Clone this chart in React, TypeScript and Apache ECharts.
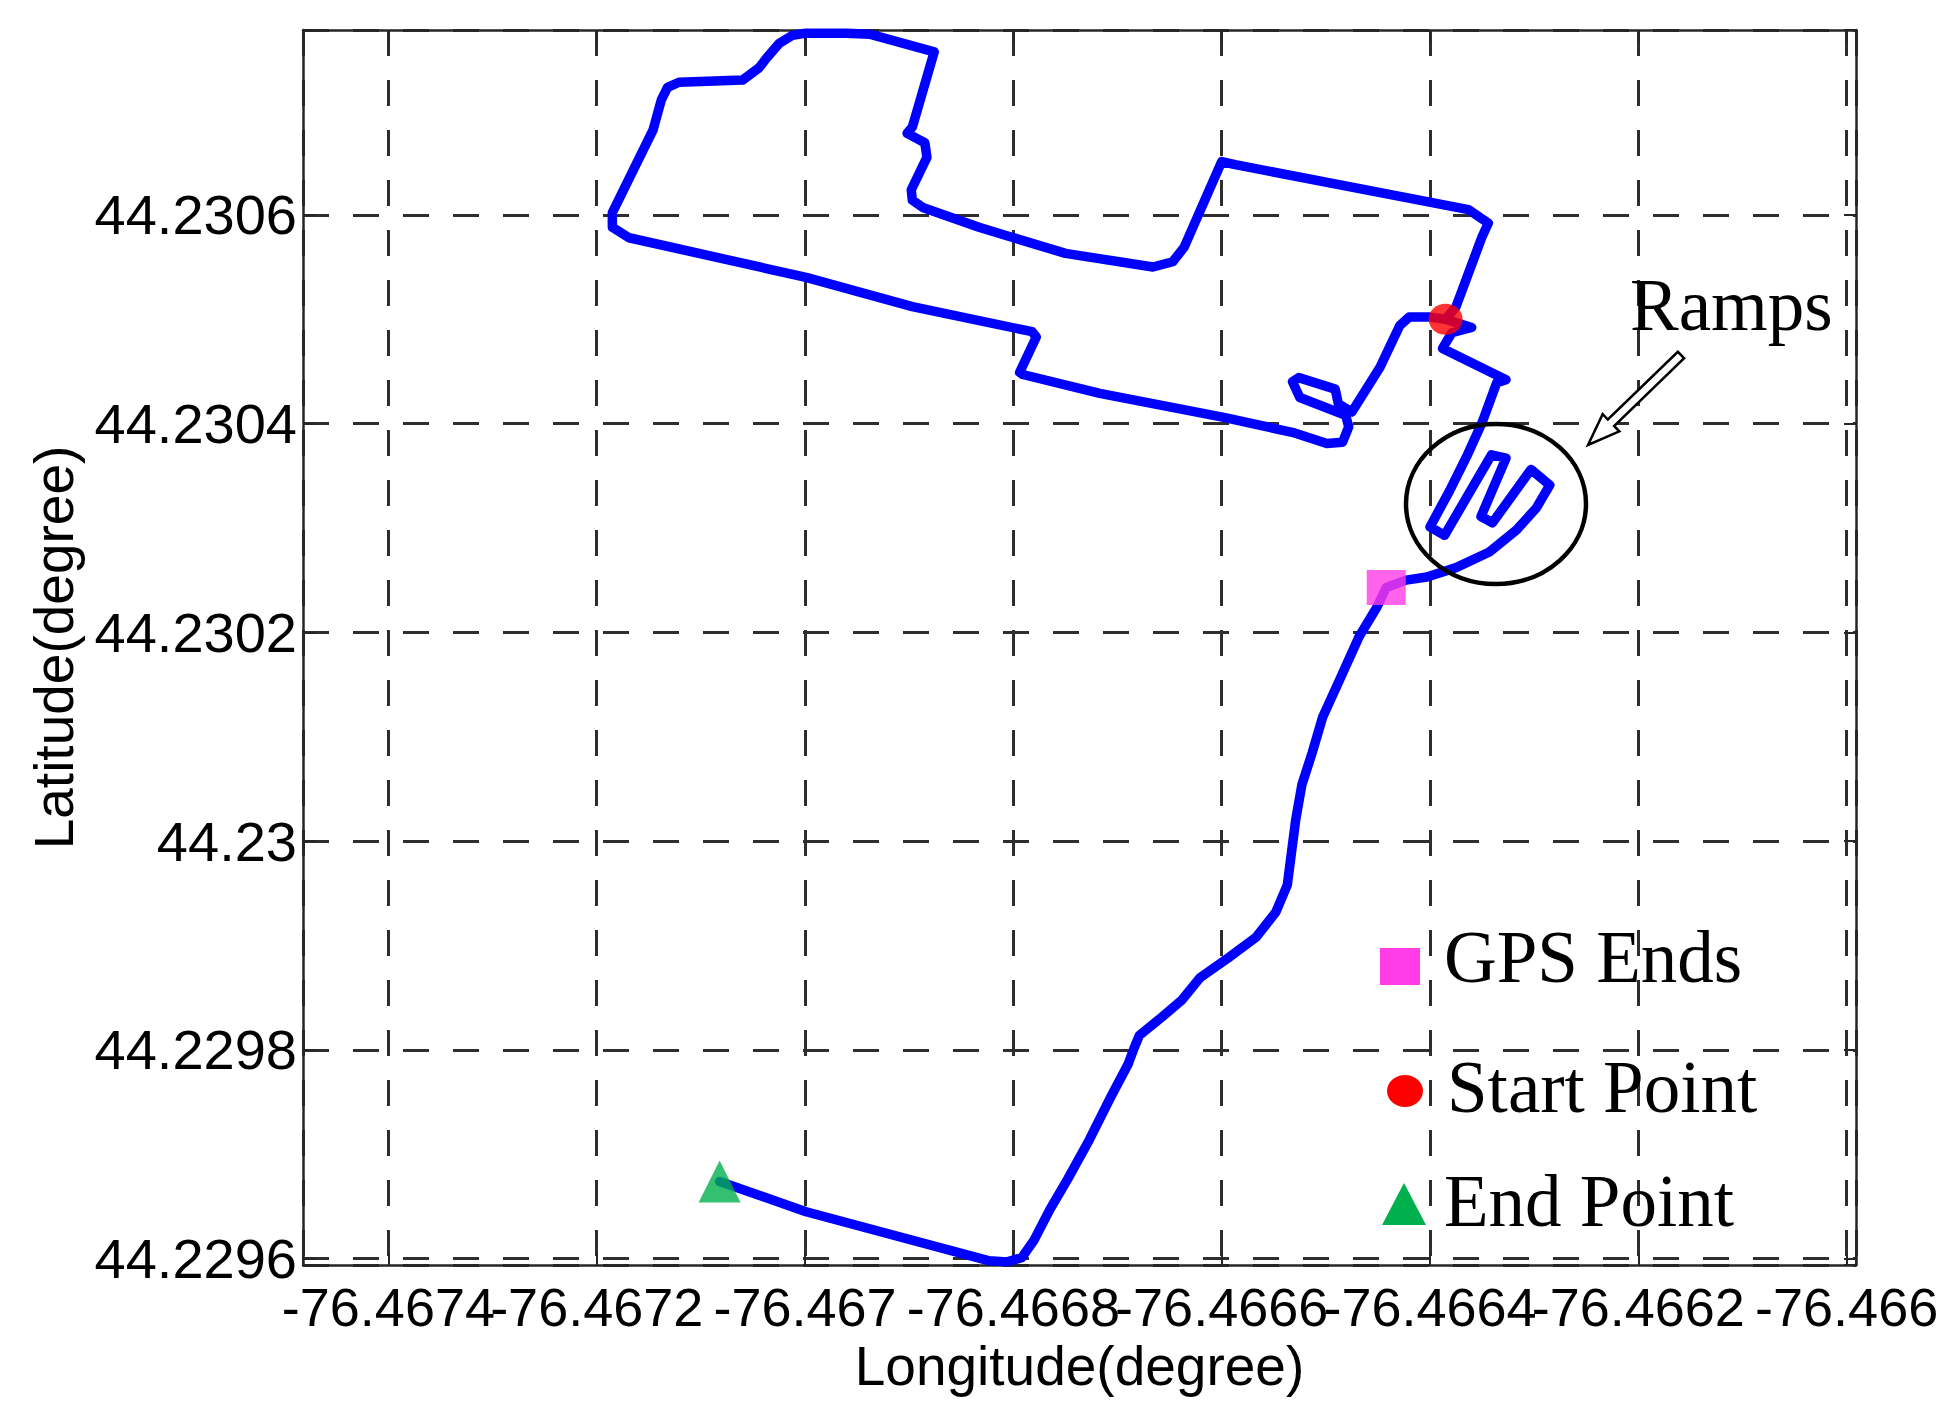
import React, { useEffect, useRef } from "react";
import * as echarts from "echarts";

// Trajectory (travel order)
const longitude: number[] = [
  -76.466385, -76.466375, -76.46635, -76.466344, -76.466363, -76.466587, -76.4666, -76.466636,
  -76.466647, -76.466666, -76.46675, -76.466803, -76.466833, -76.466887, -76.466897, -76.466898,
  -76.466883, -76.466885, -76.466902, -76.466897, -76.466876, -76.466938, -76.46696, -76.466999,
  -76.467012, -76.467025, -76.467037, -76.467044, -76.46706, -76.467121, -76.467132, -76.467138,
  -76.467146, -76.467185, -76.467185, -76.467169, -76.466999, -76.466897, -76.466782, -76.466778,
  -76.466794, -76.466791, -76.466717, -76.466598, -76.46653, -76.466499, -76.466484, -76.466478,
  -76.466481, -76.466525, -76.466532, -76.466526, -76.466491, -76.466488, -76.466475, -76.466448,
  -76.466429, -76.46642, -76.4664, -76.466385, -76.46636, -76.466379, -76.466388, -76.466327,
  -76.466336, -76.46635, -76.466365, -76.466381, -76.4664, -76.466386, -76.466341, -76.466327,
  -76.466351, -76.46634, -76.466303, -76.466285, -76.466298, -76.466317, -76.466343, -76.466375,
  -76.466403, -76.466423, -76.466442, -76.466451, -76.466468, -76.466487, -76.466503, -76.466513,
  -76.466523, -76.466529, -76.466533, -76.466537, -76.466548, -76.466567, -76.466594, -76.466621,
  -76.466638, -76.466658, -76.466679, -76.466684, -76.46669, -76.466708, -76.466727, -76.466748,
  -76.466765, -76.46678, -76.466792, -76.466806, -76.466823, -76.466999, -76.467082,
];
const latitude: number[] = [
  44.2305, 44.230512, 44.230579, 44.230592, 44.230605, 44.230648, 44.230651, 44.230569,
  44.230555, 44.23055, 44.230563, 44.230579, 44.230588, 44.230607, 44.230614, 44.230624,
  44.230655, 44.230669, 44.230678, 44.230684, 44.230756, 44.230773, 44.230774, 44.230774,
  44.230772, 44.230764, 44.23075, 44.230741, 44.230729, 44.230727, 44.230722, 44.23071,
  44.230681, 44.230602, 44.230588, 44.230578, 44.23054, 44.230512, 44.230488, 44.230483,
  44.230449, 44.230447, 44.230429, 44.230406, 44.230391, 44.230381, 44.230382, 44.230397,
  44.230408, 44.230425, 44.23044, 44.230444, 44.230433, 44.230419, 44.230411, 44.230454,
  44.230494, 44.230502, 44.230502, 44.2305, 44.230492, 44.230487, 44.230472, 44.230442,
  44.230439, 44.230401, 44.230368, 44.230336, 44.230301, 44.230293, 44.23037, 44.230367,
  44.230311, 44.230305, 44.230356, 44.230341, 44.230319, 44.230298, 44.230277, 44.230262,
  44.230253, 44.23025, 44.230243, 44.230224, 44.230196, 44.230154, 44.230119, 44.230085,
  44.230054, 44.23002, 44.229989, 44.229958, 44.229932, 44.229908, 44.229888, 44.229869,
  44.229848, 44.229831, 44.229814, 44.229802, 44.229786, 44.229752, 44.229714, 44.229676,
  44.229647, 44.229618, 44.229601, 44.229597, 44.229598, 44.229645, 44.229674,
];

// Indices of the marked points along the trajectory
const startIndex = 0;
const gpsEndIndex = 82;
const endIndex = longitude.length - 1;

// Axis extents and tick labels
const lonRange = [-76.467482, -76.465991];
const latRange = [44.229594, 44.230777];
const lonTicks = [-76.4674, -76.4672, -76.467, -76.4668, -76.4666, -76.4664, -76.4662, -76.466];
const latTicks = [44.2296, 44.2298, 44.23, 44.2302, 44.2304, 44.2306];

const legendNames = ["GPS Ends", "Start Point", "End Point"];

const SANS = "'Liberation Sans', Arial, sans-serif";
const SERIF = "'Liberation Serif', 'Times New Roman', serif";
const FRAME = "#262626";
const GRIDC = "#2e2e2e";
const ELLIPSE_PATH = "path://M0,50 A50,50 0 1,0 100,50 A50,50 0 1,0 0,50 Z";

function tickFormatter(ticks: number[]) {
  return (v: number) => {
    for (const t of ticks) {
      if (Math.abs(t - v) < 1e-8) return String(t);
    }
    return "";
  };
}

export default function App() {
  const ref = useRef<HTMLDivElement>(null);

  useEffect(() => {
    if (!ref.current) return;
    const chart = echarts.init(ref.current, undefined, { renderer: "svg" });
    const traj = longitude.map((x, i) => [x, latitude[i]]);

    const axisLine = { show: true, onZero: false, lineStyle: { color: FRAME, width: 2.5 } };
    const axisTick = { show: true, inside: true, length: 12, lineStyle: { color: FRAME, width: 2 } };
    const splitLine = { show: true, lineStyle: { color: GRIDC, width: 3, type: [26, 24] } };

    // arrow geometry (annotation)
    const tail = [1681, 355];
    const tip = [1588, 445];
    const dx = tip[0] - tail[0];
    const dy = tip[1] - tail[1];
    const len = Math.hypot(dx, dy);
    const ux = dx / len, uy = dy / len;
    const nx = -uy, ny = ux;
    const hw = 4.5, hh = 12, hl = 32;
    const bx = tip[0] - hl * ux, by = tip[1] - hl * uy;
    const arrowPts = [
      [tail[0] + hw * nx, tail[1] + hw * ny],
      [bx + hw * nx, by + hw * ny],
      [bx + hh * nx, by + hh * ny],
      [tip[0], tip[1]],
      [bx - hh * nx, by - hh * ny],
      [bx - hw * nx, by - hw * ny],
      [tail[0] - hw * nx, tail[1] - hw * ny],
    ];

    chart.setOption({
      animation: false,
      backgroundColor: "#ffffff",
      grid: { left: 303, top: 30, width: 1553, height: 1235, show: false },
      xAxis: [
        {
          type: "value",
          position: "bottom",
          min: lonRange[0],
          max: lonRange[1],
          splitNumber: 7,
          axisLine,
          axisTick,
          splitLine,
          axisLabel: {
            margin: 15,
            fontSize: 54,
            fontFamily: SANS,
            color: "#000",
            formatter: tickFormatter(lonTicks),
          },
          name: "Longitude(degree)",
          nameLocation: "middle",
          nameGap: 73,
          nameTextStyle: { fontSize: 55, fontFamily: SANS, color: "#000" },
        },
        {
          type: "value",
          position: "top",
          min: lonRange[0],
          max: lonRange[1],
          splitNumber: 7,
          axisLine,
          axisTick,
          splitLine: { show: false },
          axisLabel: { show: false },
        },
      ],
      yAxis: [
        {
          type: "value",
          position: "left",
          min: latRange[0],
          max: latRange[1],
          splitNumber: 6,
          axisLine,
          axisTick,
          splitLine,
          axisLabel: {
            margin: 6,
            fontSize: 56,
            fontFamily: SANS,
            color: "#000",
            formatter: tickFormatter(latTicks),
          },
          name: "Latitude(degree)",
          nameLocation: "middle",
          nameGap: 222,
          nameTextStyle: { fontSize: 55, fontFamily: SANS, color: "#000" },
        },
        {
          type: "value",
          position: "right",
          min: latRange[0],
          max: latRange[1],
          splitNumber: 6,
          axisLine,
          axisTick,
          splitLine: { show: false },
          axisLabel: { show: false },
        },
      ],
      series: [
        {
          name: "Trajectory",
          type: "line",
          xAxisIndex: 0,
          yAxisIndex: 0,
          data: traj,
          showSymbol: false,
          symbol: "none",
          lineStyle: { color: "#0000FF", width: 9.5, cap: "round", join: "round" },
          z: 2,
        },
        {
          name: legendNames[0],
          type: "scatter",
          data: [traj[gpsEndIndex]],
          symbol: "rect",
          symbolSize: [39, 35],
          itemStyle: { color: "#FF3CE6" },
          z: 3,
        },
        {
          name: legendNames[1],
          type: "scatter",
          data: [traj[startIndex]],
          symbol: ELLIPSE_PATH,
          symbolSize: [34, 31],
          itemStyle: { color: "#FF0000" },
          z: 3,
        },
        {
          name: legendNames[2],
          type: "scatter",
          data: [traj[endIndex]],
          symbol: "triangle",
          symbolSize: [42, 42],
          itemStyle: { color: "#00B04C" },
          z: 3,
        },
      ],
      graphic: [
        {
          type: "ellipse",
          shape: { cx: 1496, cy: 504, rx: 90, ry: 80 },
          style: { fill: "none", stroke: "#000", lineWidth: 4.5 },
          z: 100,
        },
        {
          type: "polygon",
          shape: { points: arrowPts },
          style: { fill: "#ffffff", stroke: "#000", lineWidth: 2.5 },
          z: 100,
        },
        {
          type: "text",
          x: 1630,
          y: 305,
          style: { text: "Ramps", fontSize: 73, fontFamily: SERIF, fill: "#000", verticalAlign: "middle" },
          z: 100,
        },
        {
          type: "rect",
          shape: { x: 1380, y: 948, width: 40, height: 37 },
          style: { fill: "#FF3CE6" },
          z: 100,
        },
        {
          type: "ellipse",
          shape: { cx: 1405, cy: 1091, rx: 18, ry: 16 },
          style: { fill: "#FF0000" },
          z: 100,
        },
        {
          type: "polygon",
          shape: { points: [[1404, 1183], [1382, 1225], [1426, 1225]] },
          style: { fill: "#00B04C" },
          z: 100,
        },
        {
          type: "text",
          x: 1444,
          y: 957,
          style: { text: legendNames[0], fontSize: 73, fontFamily: SERIF, fill: "#000", verticalAlign: "middle" },
          z: 100,
        },
        {
          type: "text",
          x: 1447,
          y: 1087,
          style: { text: legendNames[1], fontSize: 73, fontFamily: SERIF, fill: "#000", verticalAlign: "middle" },
          z: 100,
        },
        {
          type: "text",
          x: 1444,
          y: 1201,
          style: { text: legendNames[2], fontSize: 73, fontFamily: SERIF, fill: "#000", verticalAlign: "middle" },
          z: 100,
        },
      ],
    });

    return () => {
      chart.dispose();
    };
  }, []);

  return (
    <div
      ref={ref}
      style={{ position: "fixed", left: 0, top: 0, width: 1948, height: 1403, background: "#ffffff" }}
    />
  );
}
